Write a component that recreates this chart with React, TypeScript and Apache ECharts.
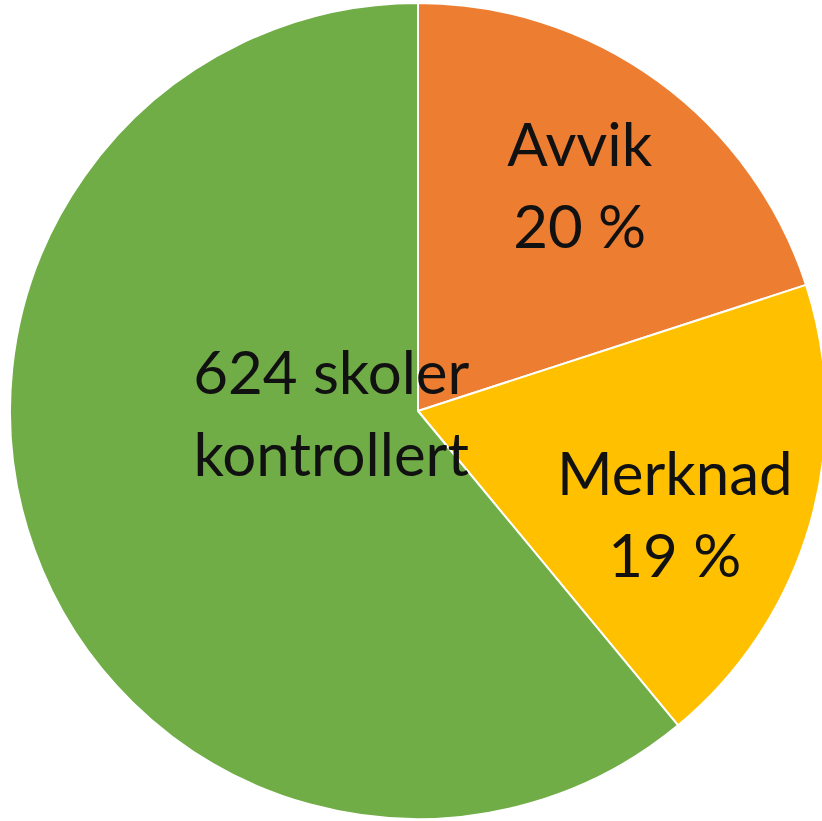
import React, { useEffect, useRef } from "react";
import * as echarts from "echarts";

const categories = ["Avvik", "Merknad", "624 skoler\nkontrollert"];
const values = [20, 19, 61];
const labelTexts = ["Avvik\n20 %", "Merknad\n19 %", "624 skoler\nkontrollert"];
const colors = ["#ED7D31", "#FFC000", "#70AD47"];
const labelShift = [
  [40, -60],
  [58, 44],
  [108, -69],
];

export default function App() {
  const ref = useRef<HTMLDivElement>(null);
  useEffect(() => {
    document.body.style.margin = "0";
    const chart = echarts.init(ref.current!, null, { renderer: "svg" });
    chart.setOption({
      animation: false,
      backgroundColor: "#ffffff",
      series: [
        {
          type: "pie",
          center: [418, 411],
          radius: [0, 408],
          startAngle: 90,
          clockwise: true,
          data: categories.map((c, i) => ({
            name: c,
            value: values[i],
            itemStyle: { color: colors[i] },
            label: { formatter: labelTexts[i] },
          })),
          itemStyle: { borderColor: "#ffffff", borderWidth: 2 },
          label: {
            show: true,
            position: "inside",
            color: "#111111",
            fontFamily: "Lato",
            fontSize: 60,
            lineHeight: 82,
            align: "center",
          },
          labelLine: { show: false },
          labelLayout: (p: any) => ({
            dx: labelShift[p.dataIndex][0],
            dy: labelShift[p.dataIndex][1],
          }),
          emphasis: { disabled: true },
        },
      ],
    });
    return () => chart.dispose();
  }, []);
  return (
    <div
      ref={ref}
      style={{ position: "absolute", left: 0, top: 0, width: 822, height: 821 }}
    />
  );
}
